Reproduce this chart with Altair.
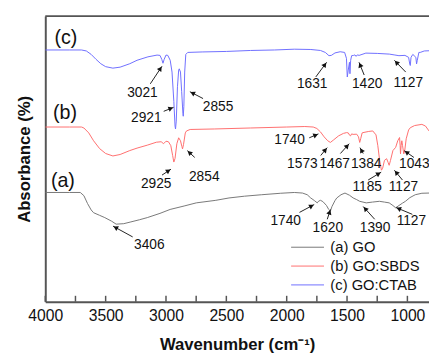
import math
import altair as alt
import pandas as pd

# ---------------- data ----------------
series_names = ["(a) GO", "(b) GO:SBDS", "(c) GO:CTAB"]

# (c) GO:CTAB  (offset absorbance, arbitrary units)
c_wn = [4000, 3800, 3700, 3660, 3620, 3580, 3540, 3500, 3440, 3380, 3300, 3240, 3150, 3074, 3050, 3035, 3025, 3015,
        3000, 2985, 2965, 2950, 2935, 2925, 2921, 2915, 2905, 2895, 2890, 2880, 2870, 2860, 2857, 2852, 2845, 2836,
        2820, 2700, 2500, 2300, 2100, 1937, 1800, 1720, 1680, 1650, 1630, 1600, 1557, 1520, 1505, 1498, 1490, 1480,
        1476, 1470, 1462, 1445, 1435, 1425, 1415, 1400, 1344, 1250, 1150, 1110, 1070, 1020, 990, 980, 976, 970, 955,
        930, 924, 918, 905, 894, 860, 821]
c_ab = [256.5, 256.5, 256.5, 255.5, 252, 247, 242.5, 239.5, 238, 239, 242.5, 246, 249.5, 251.3, 251, 247, 243, 247,
        251.3, 251, 246, 234, 204, 179, 176, 184, 219, 236, 237.3, 234, 214, 192, 189, 199, 234, 252,
        254, 254.5, 255, 256, 256.5, 257.3, 257, 256, 254, 250.7, 251, 253.5, 254.7, 254, 248, 229, 236, 244,
        232.3, 246, 250.7, 251, 251.5, 250, 251.5, 251, 253.3, 253, 252.3, 251.5, 250.7, 251, 249, 242, 240.7, 249, 252,
        249, 242.3, 246, 254, 254, 255.5, 255.7]

# (b) GO:SBDS
b_wn = [4000, 3800, 3700, 3680, 3640, 3600, 3550, 3500, 3440, 3380, 3300, 3240, 3155, 3080, 3040, 3020, 3000, 2980,
        2960, 2945, 2935, 2925, 2910, 2895, 2880, 2868, 2863, 2855, 2840, 2830, 2800, 2600, 2300, 2000, 1850, 1780,
        1750, 1720, 1690, 1660, 1638, 1610, 1570, 1530, 1504, 1490, 1478, 1471, 1462, 1450, 1420, 1405, 1395, 1387,
        1375, 1368, 1320, 1287, 1260, 1245, 1230, 1215, 1205, 1190, 1172, 1160, 1151, 1140, 1120, 1097, 1080, 1065,
        1060, 1057, 1052, 1046, 1040, 1030, 1022, 1010, 990, 976, 940, 880, 850, 821]
b_ab = [178, 178, 178, 177, 172, 164, 156, 151, 148.5, 150, 154, 156.5, 159.5, 162.5, 163, 161, 163.5, 163,
        159, 149, 142.3, 146, 161, 167, 164, 158, 155.7, 160, 172, 174, 175.5, 176, 177, 178, 178.5, 178,
        176.5, 173, 168, 164, 162.3, 165, 169, 171.5, 172.3, 172, 169.5, 169, 171, 170.5, 170.7, 168, 162.3, 166,
        172, 172.3, 173.5, 174, 170, 159, 144, 134, 136, 144, 145.7, 142, 139, 144, 154, 157.3, 164, 167.3,
        159, 150.7, 159, 164, 159, 150.7, 154, 166, 175, 177.3, 179.5, 180.7, 179, 174]

# (a) GO
a_wn = [4000, 3800, 3710, 3680, 3650, 3620, 3600, 3550, 3507, 3450, 3413, 3350, 3291, 3220, 3155, 3050, 2966, 2850,
        2749, 2587, 2478, 2350, 2207, 2050, 1937, 1869, 1830, 1801, 1770, 1747, 1735, 1720, 1700, 1670, 1652, 1638,
        1625, 1600, 1585, 1550, 1517, 1480, 1449, 1420, 1395, 1341, 1290, 1232, 1190, 1151, 1120, 1097, 1070, 1040,
        1016, 980, 935, 880, 821]
a_ab = [111.3, 111.3, 111.3, 108, 100, 93.5, 90.7, 88, 85.7, 82, 79, 79.5, 81.3, 83.5, 85.7, 90, 94, 97.5,
        100.7, 103.3, 105.7, 107.5, 109, 110.5, 111.3, 110.7, 109, 105.7, 103, 100.7, 102.5, 103.3, 102, 98, 94, 92.3,
        97, 103, 105.7, 109, 110.7, 108.5, 105.7, 104, 102.3, 100.7, 101.5, 102.3, 101.5, 100.7, 98, 95.7, 98, 100.5,
        102.3, 106, 109, 110.5, 110.7]

# panel letters
panel_text = ["(c)", "(b)", "(a)"]
panel_wn = [3829, 3837, 3854]
panel_ab = [269, 192, 123]

# peak annotations: label, label position, arrow tail, arrow head
ann_text = ["3021", "2921", "2855", "2925", "2854", "1631", "1420", "1127", "1740", "1573", "1467", "1384",
            "1043", "1185", "1127", "3406", "1740", "1620", "1390", "1127"]
ann_wn = [3195, 3163, 2569, 3081, 2683, 1789, 1333, 992, 1976, 1870, 1602, 1341, 943, 1333, 1033, 3138, 2008,
          1659, 1268, 967]
ann_ab = [213, 187, 198, 120, 127, 222, 222, 223, 165, 140, 140, 140, 140, 117, 117, 58, 82, 75, 75, 82]
tail_wn = [3130, 3019, 2693, 3033, 2762, 1759, 1358, 1014, 1813, 1718, 1555, 1366, 946, 1325, 1041, 3276, 1894,
           1664, 1271, 959]
tail_ab = [222, 194, 207, 129, 147, 229, 231, 234, 167, 149, 151, 151, 147, 124, 124, 66, 91, 84, 84, 89]
head_wn = [3033, 2937, 2802, 2959, 2824, 1669, 1401, 1108, 1737, 1664, 1482, 1393, 1027, 1217, 1108, 3439, 1772,
           1637, 1366, 1095]
head_ab = [240, 198, 214, 135, 154, 244, 244, 246, 171, 157, 161, 157, 154, 132, 134, 77, 99, 94, 97, 96]

x_labels = [4000, 3500, 3000, 2500, 2000, 1500, 1000]
x_minor = [3750, 3250, 2750, 2250, 1750, 1250]

# ---------------- layout / style ----------------
W, H = 391, 291
X_DOM = [4000, 821]
Y_DOM = [0, 291]
FONT = "Liberation Sans"
colors = ["#777777", "#ff6e6e", "#6e6eff"]

xs = alt.Scale(domain=X_DOM, nice=False, zero=False)
ys = alt.Scale(domain=Y_DOM, nice=False, zero=False)

rows = []
for name, wn, ab in zip(series_names, [a_wn, b_wn, c_wn], [a_ab, b_ab, c_ab]):
    for i, (w, v) in enumerate(zip(wn, ab)):
        rows.append({"series": name, "wn": w, "ab": v, "order": i})
spec = pd.DataFrame(rows)

lines = alt.Chart(spec).mark_line(strokeWidth=1, clip=True).encode(
    x=alt.X("wn:Q", scale=xs,
            axis=alt.Axis(values=x_labels, format="d", tickSize=0, labelPadding=6, labelFontSize=16,
                          labelFlush=False, labelColor="#111", labelFont=FONT, domainColor="#555",
                          domainWidth=2, grid=False, title="Wavenumber (cm\u207b\u00b9)", titleFont=FONT,
                          titleFontSize=17, titleFontWeight="bold", titleColor="#111", titlePadding=14)),
    y=alt.Y("ab:Q", scale=ys,
            axis=alt.Axis(labels=False, ticks=False, grid=False, domainColor="#555", domainWidth=2,
                          title="Absorbance (%)", titleFont=FONT, titleFontSize=17, titleFontWeight="bold",
                          titleColor="#111", titlePadding=12)),
    color=alt.Color("series:N", scale=alt.Scale(domain=series_names, range=colors), legend=None),
    order="order:Q",
)

# top frame line
top = alt.Chart(pd.DataFrame({"a": [0]})).mark_rule(color="#555", strokeWidth=2).encode(
    x=alt.value(0), x2=alt.value(W + 5), y=alt.value(0))

# inward ticks
tick_df = pd.DataFrame({"t": x_labels + x_minor})
ticks = alt.Chart(tick_df).mark_rule(color="#555", strokeWidth=1.5).encode(
    x=alt.X("t:Q", scale=xs), y=alt.value(H), y2=alt.value(H - 6))

panel_df = pd.DataFrame({"t": panel_text, "wn": panel_wn, "ab": panel_ab})
panels = alt.Chart(panel_df).mark_text(font=FONT, fontSize=20, color="#111", align="center",
                                        baseline="middle").encode(
    x=alt.X("wn:Q", scale=xs), y=alt.Y("ab:Q", scale=ys), text="t:N")

ann_df = pd.DataFrame({"t": ann_text, "wn": ann_wn, "ab": ann_ab,
                       "tw": tail_wn, "ta": tail_ab, "hw": head_wn, "ha": head_ab})
px_per_wn = W / (X_DOM[0] - X_DOM[1])
px_per_ab = H / (Y_DOM[1] - Y_DOM[0])


def head_geom(r):
    dx = (r["tw"] - r["hw"]) * px_per_wn      # screen px, to the right
    dy = -(r["ha"] - r["ta"]) * px_per_ab     # screen px, downward
    L = math.hypot(dx, dy) or 1.0
    ang = math.degrees(math.atan2(dx, -dy)) % 360
    back = 3.0
    cw = r["hw"] + back * dx / L / px_per_wn
    ca = r["ha"] + back * dy / L / px_per_ab
    return pd.Series({"ang": ang, "cw": cw, "ca": ca})


ann_df = pd.concat([ann_df, ann_df.apply(head_geom, axis=1)], axis=1)

labels = alt.Chart(ann_df).mark_text(font=FONT, fontSize=14, color="#111", align="center",
                                      baseline="middle").encode(
    x=alt.X("wn:Q", scale=xs), y=alt.Y("ab:Q", scale=ys), text="t:N")

shafts = alt.Chart(ann_df).mark_rule(color="#222", strokeWidth=1).encode(
    x=alt.X("tw:Q", scale=xs), x2="hw:Q", y=alt.Y("ta:Q", scale=ys), y2="ha:Q")

heads = alt.Chart(ann_df).mark_point(shape="triangle-up", filled=True, size=30, color="#111",
                                     opacity=1).encode(
    x=alt.X("cw:Q", scale=xs), y=alt.Y("ca:Q", scale=ys), angle=alt.Angle("ang:Q", scale=None))

# manual legend
leg_df = pd.DataFrame({"series": series_names, "idx": [0, 1, 2]})
leg_base = alt.Chart(leg_df).transform_calculate(
    ly="235.5 + datum.idx * 19.2", lx1="250.5", lx2="284", ltx="290.5")
leg_lines = leg_base.mark_rule(strokeWidth=1).encode(
    x=alt.X("lx1:Q", scale=None), x2="lx2:Q", y=alt.Y("ly:Q", scale=None),
    color=alt.Color("series:N", scale=alt.Scale(domain=series_names, range=colors), legend=None))
leg_text = leg_base.mark_text(font=FONT, fontSize=15, color="#111", align="left", baseline="middle").encode(
    x=alt.X("ltx:Q", scale=None), y=alt.Y("ly:Q", scale=None), text="series:N")

chart = alt.layer(lines, top, ticks, panels, shafts, heads, labels, leg_lines, leg_text).properties(
    width=W, height=H,
    padding={"left": 38, "top": 5, "right": 0, "bottom": 49},
    autosize=alt.AutoSizeParams(type="none"),
    background="white",
).configure_view(stroke=None)

chart.save("out.html", embed_options={"renderer": "svg", "actions": False})
